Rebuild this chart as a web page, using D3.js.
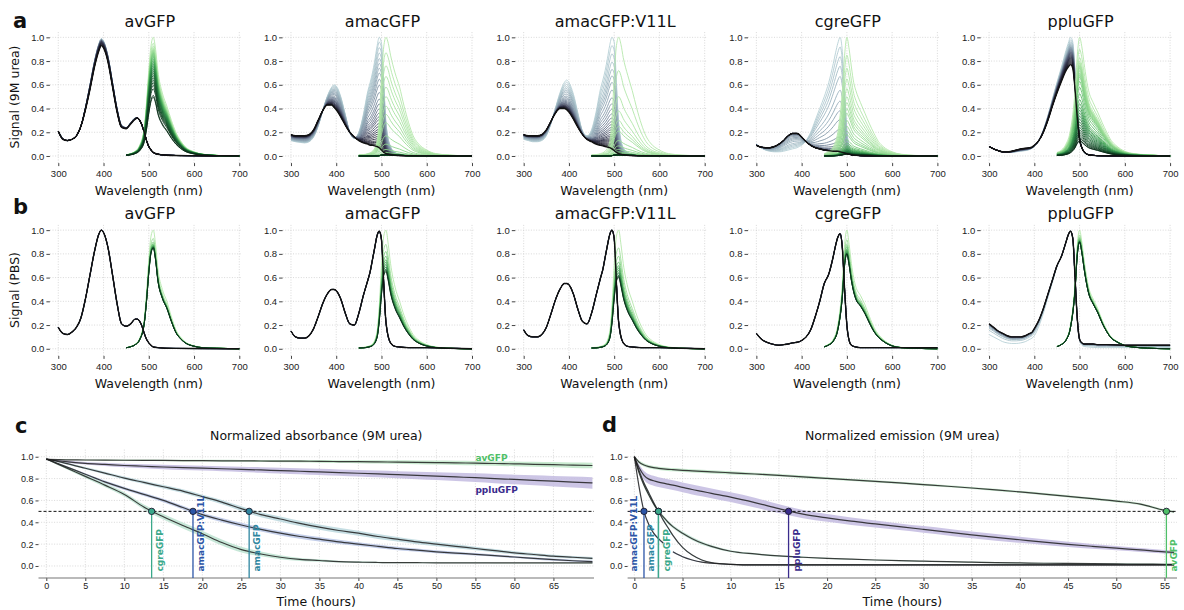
<!DOCTYPE html>
<html>
<head>
<meta charset="utf-8">
<title>GFP unfolding in urea</title>
<script src="https://d3js.org/d3.v7.min.js"></script>
<style>
  body { margin: 0; background: #fff; }
  svg { font-family: "DejaVu Sans", sans-serif; }
  .grid line { stroke: #cfcfcf; stroke-dasharray: 1,1.6; stroke-width: 0.8; }
  .axis .domain { display: none; }
  .axis line { stroke: #444; }
  .axis text { fill: #222; }
</style>
</head>
<body>
<script>

// ---------- data ----------
var proteins = ["avGFP", "amacGFP", "amacGFP:V11L", "cgreGFP", "ppluGFP"];

// absorbance wavelength grid (nm)
var absWl = [300,310,320,330,340,350,360,370,380,390,395,400,410,420,430,440,450,460,470,475,480,485,490,495,500,505,510,520,530,540,560,600,650,700];
// emission wavelength grid (nm)
var emWl = [450,460,470,480,490,495,500,505,510,515,520,530,540,550,560,570,580,600,620,650,700];

// 9M urea: absorbance at first and last timepoint
var ureaAbsStart = {
  "avGFP":        [0.21,0.15,0.13,0.14,0.17,0.25,0.41,0.60,0.80,0.95,0.99,0.97,0.84,0.62,0.40,0.26,0.24,0.28,0.32,0.32,0.30,0.26,0.20,0.13,0.08,0.05,0.03,0.015,0.01,0.006,0.004,0.003,0.002,0.001],
  "amacGFP":      [0.13,0.12,0.115,0.11,0.12,0.16,0.25,0.38,0.50,0.58,0.60,0.59,0.50,0.35,0.20,0.15,0.20,0.35,0.55,0.62,0.70,0.80,0.92,1.0,0.95,0.62,0.28,0.08,0.03,0.015,0.005,0.002,0.001,0.0],
  "amacGFP:V11L": [0.14,0.13,0.12,0.12,0.13,0.17,0.27,0.40,0.53,0.62,0.64,0.62,0.52,0.36,0.21,0.17,0.22,0.37,0.57,0.64,0.72,0.82,0.93,1.0,0.96,0.62,0.28,0.07,0.03,0.015,0.005,0.002,0.001,0.0],
  "cgreGFP":      [0.10,0.07,0.05,0.04,0.035,0.035,0.04,0.05,0.06,0.07,0.08,0.09,0.13,0.20,0.30,0.40,0.50,0.62,0.78,0.87,0.95,1.0,0.88,0.55,0.22,0.08,0.03,0.01,0.005,0.003,0.002,0.001,0.0,0.0],
  "ppluGFP":      [0.08,0.06,0.045,0.035,0.03,0.03,0.035,0.04,0.045,0.055,0.065,0.08,0.13,0.22,0.34,0.48,0.62,0.75,0.89,0.95,1.0,0.96,0.72,0.40,0.16,0.07,0.03,0.01,0.005,0.003,0.002,0.001,0.0,0.0]
};
var ureaAbsEnd = {
  "avGFP":        [0.21,0.14,0.13,0.14,0.17,0.25,0.39,0.56,0.75,0.89,0.93,0.91,0.79,0.58,0.37,0.24,0.23,0.27,0.31,0.32,0.30,0.26,0.20,0.13,0.08,0.05,0.03,0.015,0.01,0.006,0.004,0.003,0.002,0.001],
  "amacGFP":      [0.18,0.17,0.17,0.17,0.18,0.22,0.30,0.38,0.43,0.43,0.41,0.39,0.33,0.26,0.20,0.16,0.13,0.11,0.10,0.09,0.09,0.085,0.08,0.07,0.05,0.03,0.02,0.01,0.005,0.003,0.002,0.001,0.0,0.0],
  "amacGFP:V11L": [0.18,0.17,0.17,0.17,0.18,0.22,0.29,0.36,0.40,0.40,0.39,0.37,0.31,0.24,0.18,0.14,0.12,0.10,0.09,0.085,0.08,0.075,0.07,0.06,0.045,0.03,0.02,0.01,0.005,0.003,0.002,0.001,0.0,0.0],
  "cgreGFP":      [0.09,0.075,0.07,0.07,0.08,0.10,0.13,0.17,0.19,0.19,0.18,0.16,0.12,0.09,0.07,0.06,0.05,0.045,0.04,0.04,0.04,0.035,0.03,0.025,0.02,0.015,0.01,0.005,0.003,0.002,0.001,0.0,0.0,0.0],
  "ppluGFP":      [0.08,0.06,0.045,0.035,0.035,0.04,0.05,0.06,0.065,0.07,0.075,0.09,0.13,0.20,0.30,0.42,0.53,0.63,0.72,0.75,0.77,0.74,0.56,0.32,0.14,0.07,0.035,0.01,0.005,0.003,0.002,0.001,0.0,0.0]
};

// PBS: absorbance at first and last timepoint
var pbsAbsEnd = {
  "avGFP":        [0.18,0.13,0.12,0.14,0.18,0.26,0.42,0.62,0.82,0.97,1.0,0.98,0.85,0.62,0.38,0.21,0.19,0.21,0.25,0.25,0.23,0.19,0.13,0.08,0.05,0.03,0.015,0.01,0.006,0.004,0.003,0.002,0.001,0.0],
  "amacGFP":      [0.15,0.10,0.09,0.09,0.11,0.17,0.27,0.38,0.46,0.50,0.50,0.49,0.42,0.30,0.21,0.20,0.30,0.45,0.58,0.65,0.75,0.85,0.95,0.99,0.92,0.55,0.22,0.05,0.02,0.015,0.01,0.01,0.005,0.0],
  "amacGFP:V11L": [0.16,0.11,0.10,0.10,0.12,0.18,0.29,0.41,0.50,0.55,0.55,0.54,0.46,0.33,0.23,0.21,0.30,0.45,0.60,0.67,0.77,0.87,0.96,1.0,0.93,0.55,0.22,0.05,0.02,0.015,0.01,0.01,0.005,0.0],
  "cgreGFP":      [0.13,0.085,0.06,0.045,0.035,0.03,0.035,0.04,0.05,0.055,0.06,0.07,0.10,0.16,0.27,0.40,0.55,0.63,0.78,0.87,0.94,0.97,0.85,0.50,0.20,0.07,0.03,0.015,0.01,0.01,0.01,0.01,0.01,0.01],
  "ppluGFP":      [0.21,0.18,0.15,0.13,0.11,0.10,0.10,0.10,0.11,0.13,0.14,0.17,0.24,0.34,0.46,0.58,0.70,0.78,0.90,0.96,0.99,0.93,0.60,0.25,0.08,0.05,0.04,0.04,0.04,0.035,0.035,0.03,0.03,0.03]
};
var pbsAbsStart = {
  "avGFP":        pbsAbsEnd["avGFP"],
  "amacGFP":      pbsAbsEnd["amacGFP"],
  "amacGFP:V11L": pbsAbsEnd["amacGFP:V11L"],
  "cgreGFP":      pbsAbsEnd["cgreGFP"],
  "ppluGFP":      [0.12,0.10,0.08,0.06,0.05,0.045,0.045,0.05,0.06,0.08,0.09,0.11,0.19,0.30,0.43,0.56,0.69,0.78,0.90,0.96,0.99,0.93,0.60,0.25,0.07,0.03,0.02,0.015,0.012,0.01,0.01,0.01,0.01,0.01]
};

// normalized emission spectrum shapes
var ureaEmShape = {
  "avGFP":        [0.01,0.02,0.04,0.09,0.24,0.45,0.72,0.93,1.0,0.90,0.72,0.53,0.42,0.30,0.20,0.13,0.08,0.035,0.015,0.005,0.0],
  "amacGFP":      [0.01,0.012,0.02,0.04,0.12,0.30,0.65,0.92,1.0,0.95,0.85,0.70,0.58,0.42,0.28,0.17,0.11,0.05,0.02,0.008,0.0],
  "amacGFP:V11L": [0.01,0.012,0.02,0.04,0.12,0.30,0.66,0.93,1.0,0.94,0.83,0.68,0.55,0.40,0.27,0.17,0.11,0.05,0.02,0.008,0.0],
  "cgreGFP":      [0.02,0.04,0.08,0.20,0.55,0.85,1.0,0.90,0.75,0.62,0.55,0.45,0.36,0.27,0.19,0.12,0.08,0.035,0.015,0.005,0.0],
  "ppluGFP":      [0.03,0.05,0.10,0.22,0.55,0.85,1.0,0.92,0.78,0.65,0.55,0.45,0.37,0.28,0.20,0.13,0.09,0.04,0.02,0.01,0.0]
};
var pbsEmShape = {
  "avGFP":        [0.01,0.02,0.04,0.09,0.25,0.47,0.75,0.95,1.0,0.88,0.68,0.50,0.40,0.27,0.16,0.10,0.06,0.025,0.01,0.005,0.0],
  "amacGFP":      [0.01,0.012,0.02,0.04,0.14,0.35,0.70,0.95,1.0,0.88,0.72,0.52,0.40,0.28,0.19,0.12,0.08,0.035,0.015,0.005,0.0],
  "amacGFP:V11L": [0.01,0.012,0.02,0.04,0.14,0.35,0.70,0.95,1.0,0.88,0.72,0.52,0.40,0.28,0.19,0.12,0.08,0.035,0.015,0.005,0.0],
  "cgreGFP":      [0.02,0.04,0.08,0.20,0.55,0.88,1.0,0.88,0.72,0.60,0.52,0.45,0.37,0.27,0.18,0.12,0.08,0.03,0.012,0.005,0.0],
  "ppluGFP":      [0.02,0.04,0.08,0.20,0.55,0.88,1.0,0.90,0.75,0.62,0.52,0.42,0.34,0.24,0.16,0.10,0.07,0.03,0.015,0.006,0.0]
};

// c: normalized absorbance (9M urea) over time
var absTimes = [0,2.5,5,7.5,10,12.5,15,17.5,20,22.5,25,27.5,30,32.5,35,37.5,40,42.5,45,47.5,50,52.5,55,57.5,60,62.5,65,67.5,70];
var absKinetics = {
  "avGFP":        [0.975,0.972,0.97,0.969,0.968,0.967,0.966,0.965,0.964,0.963,0.962,0.961,0.96,0.959,0.958,0.956,0.955,0.953,0.951,0.949,0.947,0.944,0.941,0.938,0.935,0.931,0.927,0.923,0.92],
  "ppluGFP":      [0.975,0.955,0.94,0.93,0.92,0.913,0.906,0.9,0.895,0.89,0.885,0.879,0.873,0.867,0.861,0.855,0.849,0.843,0.836,0.829,0.822,0.815,0.808,0.8,0.792,0.784,0.776,0.768,0.76],
  "amacGFP":      [0.98,0.94,0.895,0.85,0.805,0.765,0.725,0.685,0.635,0.585,0.525,0.47,0.43,0.39,0.355,0.325,0.30,0.27,0.245,0.22,0.20,0.18,0.16,0.14,0.12,0.105,0.09,0.08,0.07],
  "amacGFP:V11L": [0.98,0.91,0.84,0.77,0.71,0.655,0.60,0.535,0.47,0.42,0.375,0.335,0.30,0.27,0.245,0.22,0.20,0.18,0.16,0.145,0.13,0.118,0.107,0.095,0.082,0.07,0.058,0.048,0.04],
  "cgreGFP":      [0.98,0.90,0.82,0.74,0.655,0.54,0.45,0.37,0.295,0.215,0.15,0.11,0.08,0.06,0.05,0.04,0.035,0.032,0.03,0.03,0.029,0.029,0.029,0.028,0.028,0.028,0.028,0.028,0.028]
};
var absKineticsSd = {
  "avGFP":        [0.005,0.005,0.005,0.006,0.006,0.007,0.007,0.008,0.008,0.009,0.009,0.01,0.01,0.011,0.012,0.013,0.014,0.015,0.016,0.017,0.018,0.019,0.02,0.021,0.022,0.023,0.024,0.025,0.026],
  "ppluGFP":      [0.005,0.01,0.012,0.014,0.016,0.018,0.02,0.021,0.022,0.023,0.024,0.025,0.026,0.027,0.028,0.029,0.03,0.031,0.032,0.034,0.036,0.038,0.04,0.042,0.044,0.046,0.048,0.05,0.052],
  "amacGFP":      [0.005,0.008,0.01,0.012,0.014,0.015,0.016,0.017,0.018,0.02,0.022,0.023,0.024,0.024,0.024,0.024,0.023,0.022,0.021,0.02,0.019,0.018,0.017,0.016,0.015,0.014,0.013,0.012,0.012],
  "amacGFP:V11L": [0.005,0.008,0.01,0.012,0.014,0.015,0.016,0.017,0.018,0.019,0.02,0.02,0.02,0.02,0.02,0.019,0.018,0.017,0.016,0.015,0.014,0.013,0.012,0.011,0.01,0.01,0.01,0.01,0.01],
  "cgreGFP":      [0.005,0.01,0.015,0.018,0.02,0.022,0.025,0.027,0.028,0.028,0.026,0.022,0.018,0.014,0.011,0.009,0.008,0.007,0.006,0.006,0.005,0.005,0.005,0.005,0.005,0.005,0.005,0.005,0.005]
};
var absHalfTimes = { "cgreGFP": 13.5, "amacGFP:V11L": 18.8, "amacGFP": 26.0 };

// d: normalized emission (9M urea) over time
var emTimes = [0,0.5,1,1.5,2,2.5,3,3.5,4,5,6,7,8,10,12.5,15,17.5,20,22.5,25,27.5,30,32.5,35,37.5,40,42.5,45,47.5,50,52.5,55,56];
var emKinetics = {
  "avGFP":        [1.0,0.95,0.925,0.91,0.9,0.894,0.889,0.885,0.882,0.876,0.871,0.866,0.862,0.853,0.842,0.83,0.816,0.802,0.788,0.774,0.76,0.745,0.73,0.714,0.697,0.678,0.658,0.638,0.617,0.594,0.566,0.51,0.495],
  "ppluGFP":      [1.0,0.9,0.83,0.795,0.78,0.768,0.758,0.749,0.74,0.72,0.70,0.683,0.665,0.63,0.58,0.525,0.475,0.44,0.41,0.385,0.36,0.335,0.31,0.285,0.262,0.24,0.218,0.198,0.18,0.163,0.147,0.13,0.125],
  "cgreGFP":      [1.0,0.85,0.74,0.65,0.568,0.5,0.45,0.40,0.36,0.30,0.25,0.21,0.18,0.135,0.11,0.092,0.08,0.07,0.062,0.055,0.049,0.044,0.039,0.035,0.031,0.028,0.025,0.023,0.021,0.019,0.017,0.016,0.015],
  "amacGFP":      [1.0,0.87,0.76,0.67,0.58,0.5,0.42,0.35,0.28,0.17,0.10,0.055,0.03,0.015,0.01,0.01,0.01,0.01,0.01,0.01,0.01,0.01,0.01,0.01,0.01,0.01,0.01,0.01,0.01,0.01,0.01,0.01,0.01],
  "amacGFP:V11L": [1.0,0.72,0.5,0.38,0.3,0.25,0.21,null,0.13,0.085,0.055,0.035,0.025,0.015,0.01,0.01,0.01,0.01,0.01,0.01,0.01,0.01,0.01,0.01,0.01,0.01,0.01,0.01,0.01,0.01,0.01,0.01,0.01]
};
var emKineticsSd = {
  "avGFP":        [0.0,0.015,0.015,0.015,0.015,0.015,0.015,0.015,0.015,0.015,0.015,0.015,0.015,0.015,0.012,0.012,0.012,0.01,0.01,0.01,0.01,0.01,0.01,0.01,0.01,0.01,0.01,0.01,0.01,0.01,0.01,0.01,0.01],
  "ppluGFP":      [0.0,0.03,0.04,0.045,0.045,0.045,0.045,0.045,0.045,0.045,0.045,0.045,0.045,0.045,0.045,0.04,0.038,0.036,0.034,0.032,0.03,0.03,0.03,0.03,0.03,0.028,0.026,0.024,0.022,0.02,0.018,0.016,0.015],
  "cgreGFP":      [0.0,0.01,0.015,0.015,0.015,0.015,0.015,0.015,0.015,0.015,0.015,0.015,0.012,0.01,0.008,0.007,0.006,0.005,0.005,0.005,0.005,0.005,0.005,0.005,0.005,0.005,0.005,0.005,0.005,0.005,0.005,0.005,0.005],
  "amacGFP":      [0.0,0.01,0.01,0.01,0.01,0.01,0.01,0.01,0.008,0.006,0.005,0.004,0.003,0.003,0.003,0.003,0.003,0.003,0.003,0.003,0.003,0.003,0.003,0.003,0.003,0.003,0.003,0.003,0.003,0.003,0.003,0.003,0.003],
  "amacGFP:V11L": [0.0,0.01,0.01,0.01,0.01,0.01,0.01,0.01,0.008,0.006,0.005,0.004,0.003,0.003,0.003,0.003,0.003,0.003,0.003,0.003,0.003,0.003,0.003,0.003,0.003,0.003,0.003,0.003,0.003,0.003,0.003,0.003,0.003]
};
var emHalfTimes = { "amacGFP:V11L": 1.0, "amacGFP": 2.5, "cgreGFP": 2.5, "ppluGFP": 16.0, "avGFP": 55.2 };

// PBS: emission peak over time
var pbsTimes = [0,5,10,15,20,25,30,40,50,60,70];
var pbsEmKinetics = {
  "avGFP":        [1.0,0.93,0.9,0.885,0.875,0.87,0.865,0.86,0.855,0.852,0.85],
  "amacGFP":      [1.0,0.88,0.82,0.78,0.75,0.73,0.71,0.69,0.67,0.66,0.65],
  "amacGFP:V11L": [1.0,0.85,0.78,0.73,0.70,0.68,0.66,0.64,0.62,0.61,0.60],
  "cgreGFP":      [1.0,0.92,0.88,0.86,0.84,0.83,0.82,0.81,0.805,0.80,0.80],
  "ppluGFP":      [1.0,0.96,0.94,0.93,0.92,0.915,0.91,0.905,0.90,0.90,0.90]
};

var yTicks = [0, 0.2, 0.4, 0.6, 0.8, 1.0];
var wlTicks = [300, 400, 500, 600, 700];
var absTickValues = [0,5,10,15,20,25,30,35,40,45,50,55,60,65];
var emTickValues = [0,5,10,15,20,25,30,35,40,45,50,55];

var protColor = {
  "avGFP": "#4fbf68", "amacGFP": "#2f86a0", "amacGFP:V11L": "#2c55a7",
  "cgreGFP": "#3aa88a", "ppluGFP": "#3a2c8c"
};
var bandColor = {
  "avGFP": "#bfe6c8", "amacGFP": "#bcd8de", "amacGFP:V11L": "#bac7e6",
  "cgreGFP": "#bde3d1", "ppluGFP": "#c3bbe1"
};

// ---------- drawing ----------
var svg = d3.select("body").append("svg")
    .attr("width", 1184)
    .attr("height", 610);

var absColor = d3.interpolateRgbBasis(["#b7d0d6", "#8ea6b4", "#5e6a84", "#2d2c44", "#0d0c17"]);
var emColor = d3.interpolateRgbBasis(["#b5e8ac", "#5cbf66", "#2a8a45", "#155a2e", "#0a2e18"]);

var specLeft = 49.9, specStep = 232.7, specW = 192.1;
var rowRange = { urea: [163.1, 31.4], pbs: [355.9, 224.2] };
var rowTitleY = { urea: 26.5, pbs: 219 };
var rowXLabelY = { urea: 194.5, pbs: 387.5 };

function mix(a, b, w) {
  return a.map(function(v, j) { return v + w * (b[j] - v); });
}

function drawSpectrumPanel(p, i, cond) {
  var x = d3.scaleLinear().domain([281.5, 706])
      .range([specLeft + i * specStep, specLeft + i * specStep + specW]);
  var y = d3.scaleLinear().domain([-0.06, 1.05]).range(rowRange[cond]);
  var g = svg.append("g");

  // grid
  var grid = g.append("g").attr("class", "grid");
  grid.selectAll(".gx").data(wlTicks).enter().append("line")
      .attr("x1", function(d) { return x(d); }).attr("x2", function(d) { return x(d); })
      .attr("y1", y.range()[0]).attr("y2", y.range()[1]);
  grid.selectAll(".gy").data(yTicks).enter().append("line")
      .attr("x1", x.range()[0]).attr("x2", x.range()[1])
      .attr("y1", function(d) { return y(d); }).attr("y2", function(d) { return y(d); });

  g.append("g").attr("class", "axis")
      .attr("transform", "translate(" + x.range()[0] + ",0)")
      .call(d3.axisLeft(y).tickValues(yTicks).tickFormat(d3.format(".1f")).tickSize(3.5).tickPadding(2))
      .selectAll("text").style("font-size", "9.5px");
  g.append("g").attr("class", "axis")
      .attr("transform", "translate(0," + y.range()[0] + ")")
      .call(d3.axisBottom(x).tickValues(wlTicks).tickSize(3).tickPadding(4))
      .selectAll("text").style("font-size", "9.5px");

  var absLine = d3.line().curve(d3.curveMonotoneX)
      .x(function(d, j) { return x(absWl[j]); }).y(function(d) { return y(d); });
  var emLine = d3.line().curve(d3.curveMonotoneX)
      .x(function(d, j) { return x(emWl[j]); }).y(function(d) { return y(d); });

  // one curve per timepoint
  var absCurves = [], emCurves = [];
  if (cond === "urea") {
    var k = absKinetics[p], n = k.length - 1;
    absTimes.forEach(function(t, j) {
      var w = (k[0] - k[j]) / (k[0] - k[n]);
      absCurves.push({ f: t / absTimes[n], v: mix(ureaAbsStart[p], ureaAbsEnd[p], w) });
    });
    var e = emKinetics[p], m = emTimes.length - 1;
    emTimes.forEach(function(t, j) {
      if (e[j] === null) return;
      emCurves.push({ f: t / emTimes[m], v: ureaEmShape[p].map(function(s) { return s * e[j]; }) });
    });
  } else {
    var pe = pbsEmKinetics[p], q = pe.length - 1;
    pbsTimes.forEach(function(t, j) {
      var w = (1 - pe[j]) / (1 - pe[q]);
      absCurves.push({ f: t / pbsTimes[q], v: mix(pbsAbsStart[p], pbsAbsEnd[p], w) });
      emCurves.push({ f: t / pbsTimes[q], v: pbsEmShape[p].map(function(s) { return s * pe[j]; }) });
    });
  }

  var last = absCurves[absCurves.length - 1];
  g.selectAll(".abs").data(absCurves.slice(0, -1)).enter().append("path")
      .attr("d", function(d) { return absLine(d.v); })
      .attr("fill", "none").attr("stroke", function(d) { return absColor(d.f); })
      .attr("stroke-width", 0.9);
  g.selectAll(".em").data(emCurves).enter().append("path")
      .attr("d", function(d) { return emLine(d.v); })
      .attr("fill", "none").attr("stroke", function(d) { return emColor(d.f); })
      .attr("stroke-width", 0.9);
  g.append("path").attr("d", absLine(last.v))
      .attr("fill", "none").attr("stroke", "#111").attr("stroke-width", 1.4);

  g.append("text").attr("x", x(500) + 1).attr("y", rowTitleY[cond])
      .attr("text-anchor", "middle").style("font-size", "16px").attr("fill", "#111").text(p);
  g.append("text").attr("x", x(500)).attr("y", rowXLabelY[cond])
      .attr("text-anchor", "middle").style("font-size", "12.5px").attr("fill", "#111").text("Wavelength (nm)");
}

proteins.forEach(function(p, i) {
  drawSpectrumPanel(p, i, "urea");
  drawSpectrumPanel(p, i, "pbs");
});

svg.append("text").attr("transform", "translate(19,97) rotate(-90)")
    .attr("text-anchor", "middle").style("font-size", "12.5px").attr("fill", "#111").text("Signal (9M urea)");
svg.append("text").attr("transform", "translate(19,290) rotate(-90)")
    .attr("text-anchor", "middle").style("font-size", "12.5px").attr("fill", "#111").text("Signal (PBS)");

// ---------- kinetics panels ----------
function drawKinetics(o) {
  var x = d3.scaleLinear().domain(o.xDomain).range(o.xRange);
  var y = d3.scaleLinear().domain([-0.11, 1.08]).range([578, 448]);
  var g = svg.append("g");

  var grid = g.append("g").attr("class", "grid");
  grid.selectAll(".gx").data(o.ticks).enter().append("line")
      .attr("x1", function(d) { return x(d); }).attr("x2", function(d) { return x(d); })
      .attr("y1", 578).attr("y2", 448);
  grid.selectAll(".gy").data(yTicks).enter().append("line")
      .attr("x1", o.xRange[0]).attr("x2", o.xRange[1])
      .attr("y1", function(d) { return y(d); }).attr("y2", function(d) { return y(d); });

  g.append("g").attr("class", "axis")
      .attr("transform", "translate(" + o.xRange[0] + ",0)")
      .call(d3.axisLeft(y).tickValues(yTicks).tickFormat(d3.format(".1f")).tickSize(3).tickPadding(2))
      .selectAll("text").style("font-size", "9px");
  g.append("g").attr("class", "axis")
      .attr("transform", "translate(0,578)")
      .call(d3.axisBottom(x).tickValues(o.ticks).tickSize(3).tickPadding(2))
      .selectAll("text").style("font-size", "9px");
  g.append("line").attr("x1", o.xRange[0]).attr("x2", o.xRange[1])
      .attr("y1", 578).attr("y2", 578).attr("stroke", "#777").attr("stroke-width", 1.2);

  var band = d3.area().curve(d3.curveMonotoneX)
      .defined(function(d) { return d.v !== null; })
      .x(function(d) { return x(d.t); })
      .y0(function(d) { return y(d.v - d.s); })
      .y1(function(d) { return y(d.v + d.s); });
  var line = d3.line().curve(d3.curveMonotoneX)
      .defined(function(d) { return d.v !== null; })
      .x(function(d) { return x(d.t); }).y(function(d) { return y(d.v); });

  var series = o.order.map(function(p) {
    return { p: p, pts: o.times.map(function(t, j) {
      return { t: t, v: o.values[p][j], s: o.sd[p][j] };
    }) };
  });
  g.selectAll(".band").data(series).enter().append("path")
      .attr("d", function(d) { return band(d.pts); })
      .attr("fill", function(d) { return bandColor[d.p]; }).attr("opacity", 0.85);
  g.selectAll(".mean").data(series).enter().append("path")
      .attr("d", function(d) { return line(d.pts); })
      .attr("fill", "none").attr("stroke", "#1e1e1e").attr("stroke-width", 1.2).attr("opacity", 0.85);

  g.append("line").attr("x1", o.xRange[0]).attr("x2", o.xRange[1])
      .attr("y1", y(0.5)).attr("y2", y(0.5))
      .attr("stroke", "#111").attr("stroke-width", 1).attr("stroke-dasharray", "3,2");

  var half = Object.keys(o.half).map(function(p) { return { p: p, t: o.half[p] }; });
  g.selectAll(".drop").data(half).enter().append("line")
      .attr("x1", function(d) { return x(d.t); }).attr("x2", function(d) { return x(d.t); })
      .attr("y1", y(0.5)).attr("y2", 578)
      .attr("stroke", function(d) { return protColor[d.p]; }).attr("stroke-width", 1.3);
  g.selectAll(".dot").data(half).enter().append("circle")
      .attr("cx", function(d) { return x(d.t); }).attr("cy", y(0.5)).attr("r", 3.2)
      .attr("fill", function(d) { return protColor[d.p]; })
      .attr("stroke", "#1a1a2e").attr("stroke-width", 0.9);

  g.selectAll(".vlab").data(half).enter().append("text")
      .attr("transform", function(d) {
        return "translate(" + (x(d.t) + o.labelDx[d.p]) + ",571.5) rotate(-90)";
      })
      .attr("dy", "0.35em")
      .style("font-size", "9px").style("font-weight", "bold")
      .attr("fill", function(d) { return protColor[d.p]; })
      .text(function(d) { return d.p; });

  g.append("text").attr("x", (o.xRange[0] + o.xRange[1]) / 2).attr("y", 439.5)
      .attr("text-anchor", "middle").style("font-size", "12.5px").attr("fill", "#111").text(o.title);
  g.append("text").attr("x", (o.xRange[0] + o.xRange[1]) / 2).attr("y", 606)
      .attr("text-anchor", "middle").style("font-size", "12.5px").attr("fill", "#111").text("Time (hours)");
  return { x: x, y: y, g: g };
}

var pc = drawKinetics({
  xDomain: [-1, 70.2], xRange: [38.5, 594], ticks: absTickValues,
  times: absTimes, values: absKinetics, sd: absKineticsSd,
  order: ["avGFP", "ppluGFP", "amacGFP", "amacGFP:V11L", "cgreGFP"],
  half: absHalfTimes,
  labelDx: { "cgreGFP": 8, "amacGFP:V11L": 8, "amacGFP": 8 },
  title: "Normalized absorbance (9M urea)"
});
pc.g.append("text").attr("x", pc.x(55)).attr("y", pc.y(0.99)).attr("dy", "0.35em")
    .style("font-size", "9px").style("font-weight", "bold").attr("fill", protColor["avGFP"]).text("avGFP");
pc.g.append("text").attr("x", pc.x(55)).attr("y", pc.y(0.70)).attr("dy", "0.35em")
    .style("font-size", "9px").style("font-weight", "bold").attr("fill", protColor["ppluGFP"]).text("ppluGFP");

drawKinetics({
  xDomain: [-0.7, 56.3], xRange: [627.6, 1177], ticks: emTickValues,
  times: emTimes, values: emKinetics, sd: emKineticsSd,
  order: ["avGFP", "ppluGFP", "cgreGFP", "amacGFP", "amacGFP:V11L"],
  half: emHalfTimes,
  labelDx: { "amacGFP:V11L": -10, "amacGFP": -8, "cgreGFP": 8, "ppluGFP": 8.5, "avGFP": 7 },
  title: "Normalized emission (9M urea)"
});

// panel letters
[["a", 13, 27.5], ["b", 13, 213.5], ["c", 15, 433], ["d", 602, 432]].forEach(function(l) {
  svg.append("text").attr("x", l[1]).attr("y", l[2])
      .style("font-size", "21px").style("font-weight", "bold").attr("fill", "#111").text(l[0]);
});

</script>
</body>
</html>
